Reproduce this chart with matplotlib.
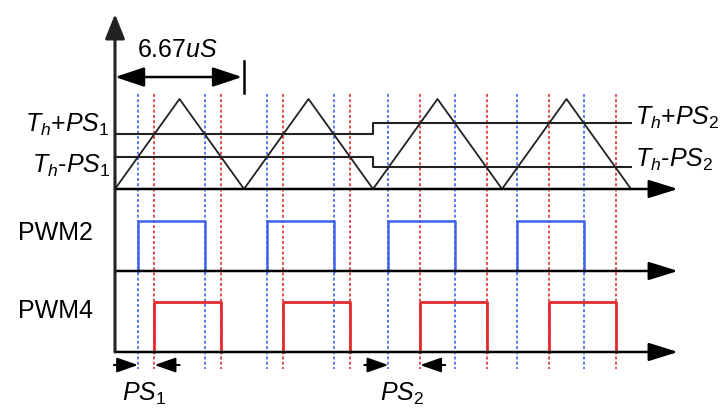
import numpy as np
import matplotlib
matplotlib.use("Agg")
import matplotlib.pyplot as plt

plt.rcParams['font.family'] = ['Liberation Sans', 'DejaVu Sans']
plt.rcParams['mathtext.fontset'] = 'custom'
plt.rcParams['mathtext.rm'] = 'Liberation Sans'
plt.rcParams['mathtext.it'] = 'Liberation Sans:italic'

# carrier: triangle, period in microseconds, amplitude normalised to 1
period_us = 6.67
tri_t = [0, 3.335, 6.67, 10.005, 13.34, 16.675, 20.01, 23.345, 26.68]
tri_v = [0, 1, 0, 1, 0, 1, 0, 1, 0]

# threshold Th and the two phase shifts (in carrier units)
th = 0.485
ps1 = 0.127
ps2 = 0.245
ps_per_period = [ps1, ps1, ps2, ps2]
step_t = [0, 13.34, 26.68]
hi_levels = [th + ps1, th + ps2, th + ps2]
lo_levels = [th - ps1, th - ps2, th - ps2]

# vertical offsets of the three traces
pwm2_base = -0.911
pwm4_base = -1.811
pulse_h = 0.556

blue = '#3f62ea'
red = '#e02c2c'
fs = 18

fig = plt.figure(figsize=(7.25, 4.14), dpi=100)
ax = fig.add_axes([0, 0, 1, 1])
ax.set_xlim(-5.946, 31.54)
ax.set_ylim(-2.489, 2.111)
ax.axis('off')

# switching edges from triangle crossings
blue_edges, red_edges = [], []
for k, ps in enumerate(ps_per_period):
    t0 = k * period_us
    half = period_us / 2
    b_on = t0 + (th - ps) * half
    r_on = t0 + (th + ps) * half
    b_off = t0 + period_us - (th + ps) * half
    r_off = t0 + period_us - (th - ps) * half
    blue_edges.append((b_on, b_off))
    red_edges.append((r_on, r_off))

# dashed guide lines
for (a, b) in blue_edges:
    for x in (a, b):
        ax.plot([x, x], [1.056, -2.0], color=blue, lw=1.4, ls=(0, (1.5, 1.2)), alpha=0.85)
for (a, b) in red_edges:
    for x in (a, b):
        ax.plot([x, x], [1.056, -2.0], color=red, lw=1.4, ls=(0, (1.5, 1.2)), alpha=0.85)

# carrier and thresholds
ax.plot(tri_t, tri_v, color='#222222', lw=1.3)
ax.plot(step_t, hi_levels, color='#222222', lw=1.5, drawstyle='steps-post')
ax.plot(step_t, lo_levels, color='#222222', lw=1.5, drawstyle='steps-post')

# pwm pulses
for (a, b) in blue_edges:
    ax.plot([a, a, b, b], [pwm2_base, pwm2_base + pulse_h, pwm2_base + pulse_h, pwm2_base],
            color=blue, lw=1.8)
for (a, b) in red_edges:
    ax.plot([a, a, b, b], [pwm4_base, pwm4_base + pulse_h, pwm4_base + pulse_h, pwm4_base],
            color=red, lw=2.0)

# axes
arrow_kw = dict(arrowstyle='-|>,head_length=0.9,head_width=0.28', mutation_scale=20,
                color='black', lw=1.8, shrinkA=0, shrinkB=0)
for yb in (0, pwm2_base, pwm4_base):
    ax.annotate('', xy=(29.11, yb), xytext=(0, yb), arrowprops=arrow_kw)
ax.annotate('', xy=(0, 1.944), xytext=(0, pwm4_base),
            arrowprops=dict(arrowstyle='-|>,head_length=0.75,head_width=0.3', mutation_scale=20,
                            color='#222222', lw=2.2, shrinkA=0, shrinkB=0))

# period dimension
dim_kw = dict(arrowstyle='<|-|>,head_length=0.9,head_width=0.3', mutation_scale=20,
              color='black', lw=1.8, shrinkA=0, shrinkB=0)
ax.annotate('', xy=(period_us - 0.1, 1.244), xytext=(0, 1.244), arrowprops=dim_kw)
ax.plot([period_us, period_us], [1.422, 1.067], color='black', lw=1.8)
ax.text(period_us / 2 - 0.1, 1.556, '6.67$uS$', fontsize=fs, ha='center', va='center')

# phase shift markers
ps_kw = dict(arrowstyle='-|>,head_length=0.8,head_width=0.28', mutation_scale=16,
             color='black', lw=1.5, shrinkA=0, shrinkB=0)
y_ps = -1.956
for idx, name in ((0, '$PS_1$'), (2, '$PS_2$')):
    b = blue_edges[idx][0]
    r = red_edges[idx][0]
    ax.annotate('', xy=(b, y_ps), xytext=(b - 1.25, y_ps), arrowprops=ps_kw)
    ax.annotate('', xy=(r, y_ps), xytext=(r + 1.3, y_ps), arrowprops=ps_kw)
    ax.text((b + r) / 2 - 0.1, -2.27, name, fontsize=fs, ha='center', va='center')

# labels
ax.text(-0.26, 0.644, '$T_h$+$PS_1$', fontsize=fs, ha='right', va='baseline')
ax.text(-0.26, 0.189, '$T_h$-$PS_1$', fontsize=fs, ha='right', va='baseline')
ax.text(26.9, 0.722, '$T_h$+$PS_2$', fontsize=fs, ha='left', va='baseline')
ax.text(26.9, 0.256, '$T_h$-$PS_2$', fontsize=fs, ha='left', va='baseline')
ax.text(-3.1, -0.556, 'PWM2', fontsize=fs, ha='center', va='baseline')
ax.text(-3.1, -1.422, 'PWM4', fontsize=fs, ha='center', va='baseline')

fig.savefig('out.png', dpi=100)
